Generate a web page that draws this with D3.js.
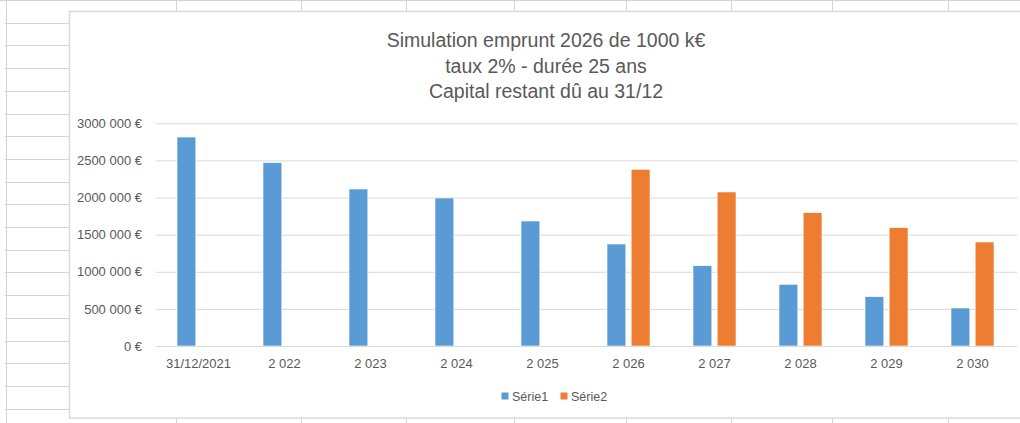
<!DOCTYPE html>
<html>
<head>
<meta charset="utf-8">
<script src="https://cdn.jsdelivr.net/npm/d3@7"></script>
<style>
  body { margin: 0; background: #fff; }
  svg { display: block; font-family: "Liberation Sans", Arial, sans-serif; }
</style>
</head>
<body>
<div id="chart"></div>
<script>
// chart data
const categories = ["31/12/2021", "2 022", "2 023", "2 024", "2 025", "2 026", "2 027", "2 028", "2 029", "2 030"];
const serie1 = [2815000, 2469000, 2115000, 1994000, 1684000, 1374000, 1082000, 831000, 664000, 512000];
const serie2 = [null, null, null, null, null, 2380000, 2075000, 1796000, 1594000, 1401000];
const seriesNames = ["Série1", "Série2"];
const seriesColors = ["#5b9bd5", "#ed7d31"];
const yTicks = [0, 500000, 1000000, 1500000, 2000000, 2500000, 3000000];
const titleLines = ["Simulation emprunt 2026 de 1000 k€", "taux 2% - durée 25 ans", "Capital restant dû au 31/12"];

const W = 1020, H = 423;
const svg = d3.select("#chart").append("svg")
  .attr("width", W)
  .attr("height", H);

// --- spreadsheet grid behind the chart ---
const sheet = svg.append("g").attr("stroke", "#d4d4d4").attr("stroke-width", 1);
sheet.append("line").attr("x1", 0).attr("x2", W).attr("y1", 0.5).attr("y2", 0.5);
sheet.append("line").attr("x1", 6.5).attr("x2", 6.5).attr("y1", 0).attr("y2", H);
d3.range(22.7, H, 22.7).forEach(y => {
  sheet.append("line").attr("x1", 5).attr("x2", 69)
    .attr("y1", Math.round(y) + 0.5).attr("y2", Math.round(y) + 0.5);
});
[176, 301, 406, 514, 626, 731, 832, 948].forEach(x => {
  sheet.append("line").attr("x1", x + 0.5).attr("x2", x + 0.5).attr("y1", 0).attr("y2", 12);
  sheet.append("line").attr("x1", x + 0.5).attr("x2", x + 0.5).attr("y1", 418).attr("y2", H);
});

// chart area
svg.append("rect")
  .attr("x", 69.5).attr("y", 11.5)
  .attr("width", W + 10).attr("height", 406.5)
  .attr("fill", "#fff")
  .attr("stroke", "#d9d9d9")
  .attr("stroke-width", 1.5);

// scales
const x0 = d3.scaleBand()
  .domain(categories)
  .range([155.5, 1015.5])
  .paddingInner(0).paddingOuter(0);

const x1 = d3.scaleBand()
  .domain(seriesNames)
  .range([x0.bandwidth() / 2 - 21.5, x0.bandwidth() / 2 + 21.5])
  .paddingInner(0.22);

const y = d3.scaleLinear()
  .domain([0, 3000000])
  .range([346, 123.3]);

// y tick label like Excel "### ##0 €"
function fmtEuro(v) {
  if (v < 1000) return v + " €";
  const k = Math.floor(v / 1000);
  const r = String(v % 1000).padStart(3, "0");
  return k + " " + r + " €";
}

// gridlines
const yAxis = d3.axisLeft(y)
  .tickValues(yTicks)
  .tickSize(-(1017 - 156))
  .tickPadding(14)
  .tickFormat(fmtEuro);

svg.append("g")
  .attr("transform", "translate(156,0)")
  .call(yAxis)
  .call(g => g.select(".domain").remove())
  .call(g => g.selectAll(".tick line").attr("stroke", "#d9d9d9"))
  .call(g => g.selectAll(".tick text")
    .attr("fill", "#595959")
    .attr("font-size", "13px")
    .style("font-family", "Liberation Sans, Arial, sans-serif"));

// bars
const rows = categories.map((c, i) => ({ cat: c, values: [serie1[i], serie2[i]] }));

const groups = svg.append("g").selectAll("g")
  .data(rows)
  .join("g")
  .attr("transform", d => `translate(${x0(d.cat)},0)`);

groups.selectAll("rect")
  .data(d => d.values.map((v, j) => ({ name: seriesNames[j], value: v, color: seriesColors[j] }))
    .filter(d => d.value !== null))
  .join("rect")
  .attr("x", d => x1(d.name))
  .attr("width", x1.bandwidth())
  .attr("y", d => y(d.value))
  .attr("height", d => y(0) - y(d.value))
  .attr("fill", d => d.color)
  .attr("stroke", "#fff")
  .attr("stroke-width", 0.6);

// x axis
const xAxis = d3.axisBottom(x0).tickSize(0).tickPadding(13);
svg.append("g")
  .attr("transform", `translate(0,${y(0)})`)
  .call(xAxis)
  .call(g => g.select(".domain")
    .attr("d", `M156,0.5H1017`)
    .attr("stroke", "#d9d9d9"))
  .call(g => g.selectAll(".tick text")
    .attr("fill", "#595959")
    .attr("font-size", "13px")
    .style("font-family", "Liberation Sans, Arial, sans-serif"));

// title
svg.append("g").selectAll("text")
  .data(titleLines)
  .join("text")
  .attr("x", 546)
  .attr("y", (d, i) => 47 + i * 25.5)
  .attr("text-anchor", "middle")
  .attr("fill", "#595959")
  .attr("font-size", "19.5px")
  .text(d => d);

// legend
const legend = svg.append("g").attr("transform", "translate(501.5,392.5)");
const legItems = legend.selectAll("g")
  .data(seriesNames)
  .join("g")
  .attr("transform", (d, i) => `translate(${i * 59},0)`);
legItems.append("rect")
  .attr("width", 7).attr("height", 7)
  .attr("fill", (d, i) => seriesColors[i]);
legItems.append("text")
  .attr("x", 10.5).attr("y", 8)
  .attr("fill", "#595959")
  .attr("font-size", "12.5px")
  .text(d => d);
</script>
</body>
</html>
